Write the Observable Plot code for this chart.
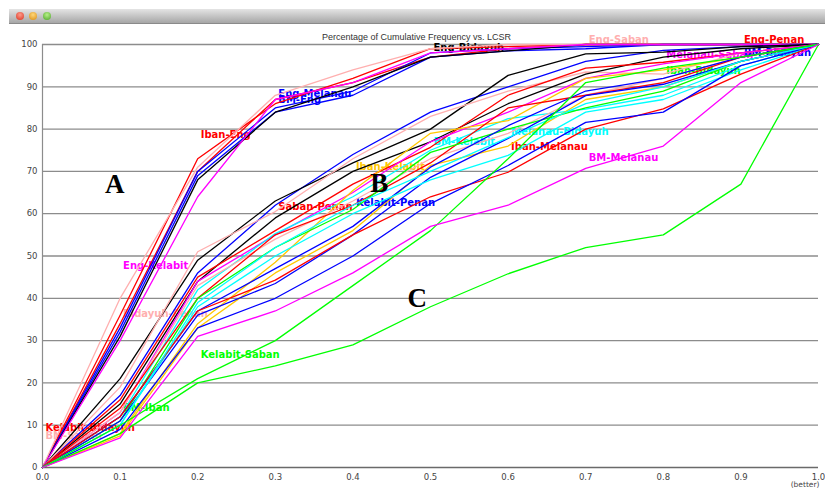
<!DOCTYPE html>
<html><head><meta charset="utf-8">
<script src="https://cdn.jsdelivr.net/npm/d3@7"></script>
<script src="https://cdn.jsdelivr.net/npm/@observablehq/plot@0.6"></script>
<style>
html,body{margin:0;padding:0;background:#fff;width:825px;height:489px;overflow:hidden;}
#bar{position:absolute;left:9px;top:9px;width:816px;height:14px;background:linear-gradient(#e4e4e4,#a6a6a6);border-bottom:1px solid #8a8a8a;}
.dot{position:absolute;top:3px;width:8px;height:8px;border-radius:50%;}
#title{position:absolute;top:32px;left:322px;font:9px "Liberation Sans",Arial,sans-serif;color:#333;white-space:nowrap;}
#chart{position:absolute;left:0;top:30px;}
</style></head>
<body>
<div id="bar">
  <div class="dot" style="left:7px;background:radial-gradient(circle at 50% 35%,#ff9a8a,#d9331f)"></div>
  <div class="dot" style="left:20px;background:radial-gradient(circle at 50% 35%,#ffd77a,#d98c12)"></div>
  <div class="dot" style="left:34px;background:radial-gradient(circle at 50% 35%,#b8f08a,#4aa426)"></div>
</div>
<div id="title">Percentage of Cumulative Frequency vs. LCSR</div>
<div id="chart"></div>
<script>
// ---- data ----
const lcsr = [0, 0.1, 0.2, 0.3, 0.4, 0.5, 0.6, 0.7, 0.8, 0.9, 1.0];
const yTicks = [0, 10, 20, 30, 40, 50, 60, 70, 80, 90, 100];

// group A
const engPenan   = [0, 36, 73, 86, 92, 99, 99.5, 100, 100, 100, 100];
const ibanEng    = [0, 34, 70, 87, 91, 97, 99, 100, 100, 100, 100];
const engMelanau = [0, 33, 70, 85, 89, 98, 99, 99.5, 100, 100, 100];
const bmEng      = [0, 32, 69, 84, 88, 97, 98.5, 99, 100, 100, 100];
const engBidayuh = [0, 31, 68, 84, 90, 97, 98.5, 100, 100, 100, 100];
const engSaban   = [0, 40, 71, 88, 94, 99, 100, 100, 100, 100, 100];
const engKelabit = [0, 30, 64, 87, 91, 98, 99, 100, 100, 100, 100];
// group B
const bmBidayuh      = [0, 17, 46, 62, 74, 84, 90, 96, 98.6, 99.5, 100];
const bmPenan        = [0, 21, 49, 63, 72, 80, 92.7, 97.8, 98.2, 99.5, 100];
const bidayuhPenan   = [0, 19, 51, 60.5, 73, 83, 89, 93.5, 93, 98, 100];
const ibanPenan      = [0, 15, 44, 59, 70, 77, 86, 93, 97, 99, 100];
const sabanPenan     = [0, 16, 45, 56, 67, 75.7, 88, 94.4, 95.8, 98, 100];
const melanauSaban   = [0, 13, 44, 55, 65, 77, 84, 92, 95.4, 98, 100];
const bmKelabit      = [0, 12, 42, 55.3, 64, 75, 82.5, 84.7, 88, 95, 100];
const ibanKelabit    = [0, 8, 34, 48.5, 65.5, 79, 82, 92, 94, 97, 100];
const bmSaban        = [0, 13, 43, 54, 63, 73, 79, 88, 92, 97, 100];
const kelabitBidayuh = [0, 14, 40, 55, 62, 72, 85, 88, 91, 97, 100];
const ibanBidayuh    = [0, 11, 40, 52, 61, 74.5, 80, 85, 89, 96, 100];
const bidayuhSaban   = [0, 7.5, 33, 46, 56, 71.4, 76, 87, 90, 96, 100];
const kelabitPenan   = [0, 12, 37, 47, 57, 71, 80.8, 89, 92, 97, 100];
const ibanSaban      = [0, 11, 36, 43.5, 55, 68.6, 77.8, 87.9, 90.6, 96, 100];
const melanauBidayuh = [0, 10, 38, 50, 60, 68, 73.8, 84, 87, 94, 100];
const ibanMelanau    = [0, 12, 37, 44.3, 55, 64, 69.8, 80, 84.8, 93, 100];
const melanauKelabit = [0, 9, 33, 40, 50, 62.4, 71.4, 81.6, 84, 95, 100];
const melanauPenan   = [0, 10, 39, 52, 62, 70, 78, 86, 90, 96, 100];
const bmIban         = [0, 10, 21, 30, 43, 56, 73, 91, 94.4, 97, 100];
// group C
const kelabitSaban   = [0, 8, 20, 24, 29, 38, 45.8, 52, 55, 67, 100];
const bmMelanau      = [0, 7, 31, 37, 46, 57, 62, 70.7, 76, 91, 100];

const pairNames = ["Eng-Penan","Iban-Eng","Eng-Melanau","BM-Eng","Eng-Bidayuh","Eng-Saban","Eng-Kelabit",
  "BM-Bidayuh","BM-Penan","Bidayuh-Penan","Iban-Penan","Saban-Penan","Melanau-Saban","BM-Kelabit","Iban-Kelabit",
  "BM-Saban","Kelabit-Bidayuh","Iban-Bidayuh","Bidayuh-Saban","Kelabit-Penan","Iban-Saban","Melanau-Bidayuh",
  "Iban-Melanau","Melanau-Kelabit","Melanau-Penan","BM-Iban","Kelabit-Saban","BM-Melanau"];
const pairValues = [engPenan, ibanEng, engMelanau, bmEng, engBidayuh, engSaban, engKelabit,
  bmBidayuh, bmPenan, bidayuhPenan, ibanPenan, sabanPenan, melanauSaban, bmKelabit, ibanKelabit,
  bmSaban, kelabitBidayuh, ibanBidayuh, bidayuhSaban, kelabitPenan, ibanSaban, melanauBidayuh,
  ibanMelanau, melanauKelabit, melanauPenan, bmIban, kelabitSaban, bmMelanau];

// series labels as drawn on the chart (data coordinates)
const labelNames = ["Kelabit-Bidayuh","BM-Saban","BM-Iban","Bidayuh-Penan","Eng-Kelabit","Iban-Eng","Kelabit-Saban",
  "Eng-Melanau","BM-Eng","Saban-Penan","Iban-Kelabit","Kelabit-Penan","Eng-Bidayuh","BM-Kelabit",
  "Melanau-Bidayuh","Iban-Melanau","Eng-Saban","BM-Melanau","Melanau-Saban","Iban-Bidayuh","Eng-Penan","BM-Bidayuh"];
const labelX = [0.0,0.0,0.1,0.1,0.1,0.2,0.2,0.3,0.3,0.3,0.4,0.4,0.5,0.5,0.6,0.6,0.7,0.7,0.8,0.8,0.9,0.9];
const labelY = [9.5,7.4,14.2,36.4,47.8,78.7,26.7,88.4,87.0,61.7,71.2,62.6,99.3,77.1,79.4,75.7,101,73.3,97.6,93.9,101,98.1];

const groupNames = ["A","B","C"];
const groupX = [0.093, 0.434, 0.483];
const groupY = [66.9, 67.1, 40];

// ---- styles ----
const RED="#ff0000", BLUE="#0000ff", GREEN="#00ff00", MAG="#ff00ff", CYAN="#00ffff", ORANGE="#ffc800", PINK="#ffafaf", BLACK="#000000";
const seriesColor = {
  "Eng-Penan":RED,"Iban-Eng":RED,"Eng-Melanau":BLUE,"BM-Eng":BLUE,"Eng-Bidayuh":BLACK,"Eng-Saban":PINK,"Eng-Kelabit":MAG,
  "BM-Bidayuh":BLUE,"BM-Penan":BLACK,"Bidayuh-Penan":PINK,"Iban-Penan":BLACK,"Saban-Penan":RED,"Melanau-Saban":MAG,
  "BM-Kelabit":CYAN,"Iban-Kelabit":ORANGE,"BM-Saban":PINK,"Kelabit-Bidayuh":RED,"Iban-Bidayuh":GREEN,"Bidayuh-Saban":ORANGE,
  "Kelabit-Penan":BLUE,"Iban-Saban":BLUE,"Melanau-Bidayuh":CYAN,"Iban-Melanau":RED,"Melanau-Kelabit":BLUE,
  "Melanau-Penan":CYAN,"BM-Iban":GREEN,"Kelabit-Saban":GREEN,"BM-Melanau":MAG
};

// ---- build tables ----
const rows = pairNames.flatMap((name, i) => pairValues[i].map((v, j) => ({series: name, x: lcsr[j], y: v, color: seriesColor[name]})));
const labels = labelNames.map((name, i) => ({name, x: labelX[i], y: labelY[i], color: seriesColor[name]}));
const groups = groupNames.map((g, i) => ({g, x: groupX[i], y: groupY[i]}));

const tickFont = "DejaVu Sans, sans-serif";
const chart = Plot.plot({
  width: 825, height: 459,
  marginLeft: 42, marginRight: 7, marginTop: 14, marginBottom: 22,
  x: {domain: [0, 1], axis: null},
  y: {domain: [0, 100], axis: null},
  color: {type: "identity"},
  style: {background: "transparent", overflow: "visible"},
  marks: [
    Plot.ruleY(yTicks.filter(d => d > 0), {stroke: "#8c8c8c", strokeWidth: 1.3}),
    Plot.ruleY([0], {stroke: "#6a6a6a", strokeWidth: 1.4}),
    Plot.ruleX([0], {y1: 0, y2: 100, stroke: "#8c8c8c", strokeWidth: 1.2}),
    Plot.text(yTicks, {x: 0, y: d => d, text: d => String(d), textAnchor: "end", dx: -5, fontSize: 8.5, fontFamily: tickFont, fill: "#444"}),
    Plot.text(lcsr, {x: d => d, y: 0, text: d => d3.format(".1f")(d), dy: 10, fontSize: 8.5, fontFamily: tickFont, fill: "#444"}),
    Plot.text(["(better)"], {x: 1, y: 0, text: d => d, dy: 17, dx: 1, textAnchor: "end", fontSize: 7.5, fontFamily: tickFont, fill: "#444"}),
    Plot.text(labels, {x: "x", y: "y", text: "name", fill: "color", textAnchor: "start", dx: 3, fontSize: 10, fontWeight: "bold", fontFamily: "DejaVu Sans, sans-serif"}),
    Plot.line(rows, {x: "x", y: "y", z: "series", stroke: "color", strokeWidth: 1.3}),
    Plot.text(groups, {x: "x", y: "y", text: "g", fontSize: 27, fontWeight: "bold", fontFamily: "Liberation Serif, serif", fill: "#000"})
  ]
});
document.getElementById("chart").appendChild(chart);
</script>
</body></html>
